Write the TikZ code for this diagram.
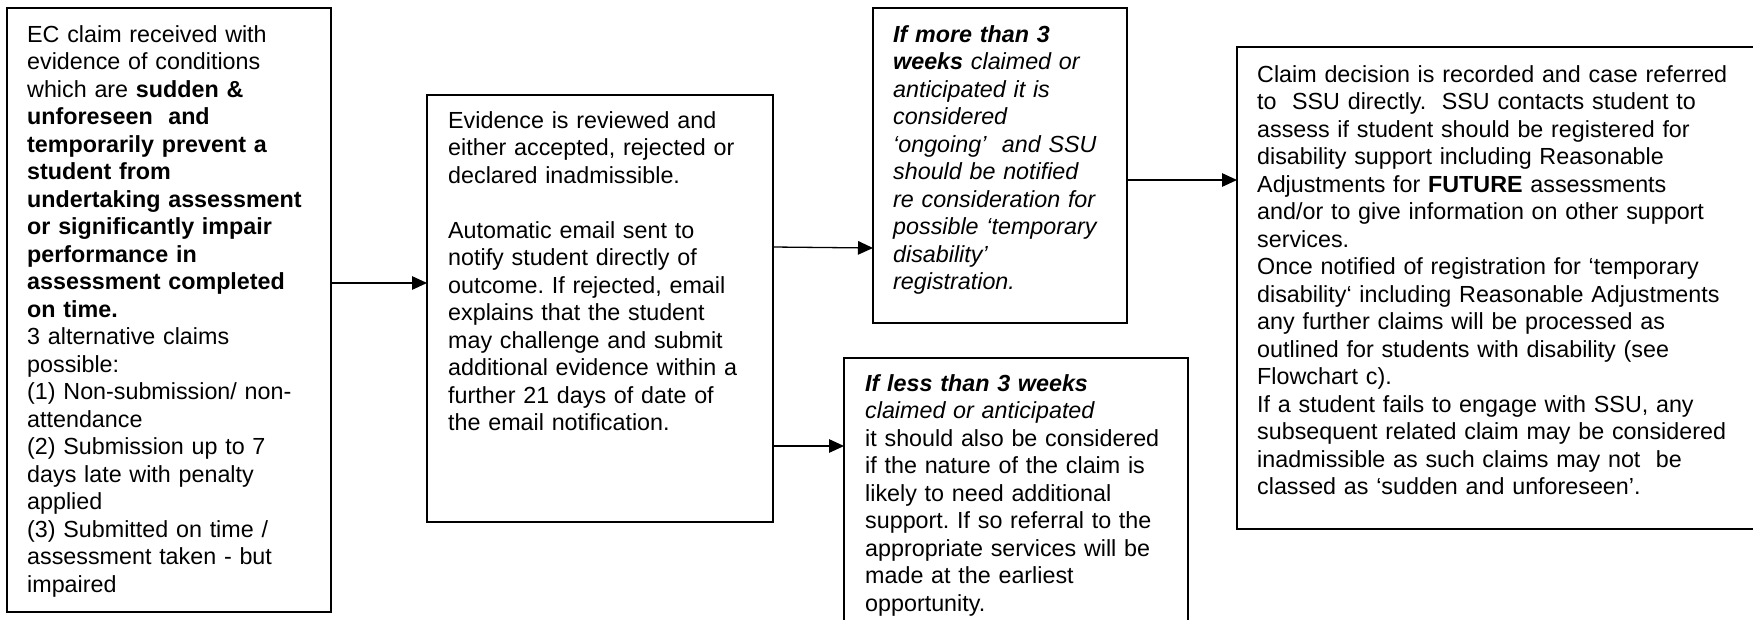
\documentclass[tikz,border=0pt]{standalone}
\usepackage{fontspec}
\setmainfont{Liberation Sans}
\usetikzlibrary{arrows.meta}
\frenchspacing
\begin{document}
\begin{tikzpicture}[x=1pt,y=-1pt,
  box/.style={draw, line width=1.6pt, anchor=north west, inner sep=0pt, outer sep=0pt},
  txt/.style={anchor=base west, inner sep=0pt, text width=#1, align=left,
    font=\fontsize{23.3pt}{27.5pt}\selectfont},
  arr/.style={line width=1.3pt, -{Triangle[length=15pt,width=13.5pt]}}]
\useasboundingbox[fill=white] (0,0) rectangle (1753,619);
\clip (0,0) rectangle (1753,619);
% boxes
\node[box, minimum width=324pt, minimum height=604pt] (b1) at (7,8) {};
\node[box, minimum width=346pt, minimum height=427pt] (b2) at (427,95) {};
\node[box, minimum width=254pt, minimum height=315pt] (b3) at (873,8) {};
\node[box, minimum width=344pt, minimum height=300pt] (b4) at (844,358) {};
\node[box, minimum width=560pt, minimum height=482pt] (b5) at (1237,47) {};
% texts
\node[txt=320pt] (t1) at (27,42) {EC claim received with\\
evidence of conditions\\
which are \textbf{sudden \&}\\
\textbf{unforeseen\ \ and}\\
\textbf{temporarily prevent a}\\
\textbf{student from}\\
\textbf{undertaking assessment}\\
\textbf{or significantly impair}\\
\textbf{performance in}\\
\textbf{assessment completed}\\
\textbf{on time.}\\
3 alternative claims\\
possible:\\
(1) Non-submission/ non-\\
attendance\\
(2) Submission up to 7\\
days late with penalty\\
applied\\
(3) Submitted on time /\\
assessment taken - but\\
impaired};
\node[txt=330pt] (t2) at (448,128) {Evidence is reviewed and\\
either accepted, rejected or\\
declared inadmissible.\\[27.5pt]
Automatic email sent to\\
notify student directly of\\
outcome. If rejected, email\\
explains that the student\\
may challenge and submit\\
additional evidence within a\\
further 21 days of date of\\
the email notification.};
\node[txt=300pt, font=\fontsize{23.3pt}{27.5pt}\selectfont\itshape] (t3) at (893,42) {\textbf{If more than 3}\\
\textbf{weeks} claimed or\\
anticipated it is\\
considered\\
‘ongoing’\ \ and SSU\\
should be notified\\
re consideration for\\
possible ‘temporary\\
disability’\\
registration.};
\node[txt=330pt] (t4) at (865,391) {\textbf{\textit{If less than 3 weeks}}\\
\textit{claimed or anticipated}\\
it should also be considered\\
if the nature of the claim is\\
likely to need additional\\
support. If so referral to the\\
appropriate services will be\\
made at the earliest\\
opportunity.};
\node[txt=490pt] (t5) at (1257,82) {Claim decision is recorded and case referred\\
to\ \ SSU directly.\ \ SSU contacts student to\\
assess if student should be registered for\\
disability support including Reasonable\\
Adjustments for \textbf{FUTURE} assessments\\
and/or to give information on other support\\
services.\\
Once notified of registration for ‘temporary\\
disability‘ including Reasonable Adjustments\\
any further claims will be processed as\\
outlined for students with disability (see\\
Flowchart c).\\
If a student fails to engage with SSU, any\\
subsequent related claim may be considered\\
inadmissible as such claims may not\ \ be\\
classed as ‘sudden and unforeseen’.};
% connector levels
\coordinate (y1) at (0,283);
\coordinate (y2a) at (0,247);
\coordinate (y2b) at (0,248);
\coordinate (y3) at (0,446);
\coordinate (y4) at (0,180);
\draw[arr] (b1.east |- y1) -- (b2.west |- y1);
\draw[arr] (b2.east |- y2a) -- (b3.west |- y2b);
\draw[arr] (b2.east |- y3) -- (b4.west |- y3);
\draw[arr] (b3.east |- y4) -- (b5.west |- y4);
\end{tikzpicture}
\end{document}
